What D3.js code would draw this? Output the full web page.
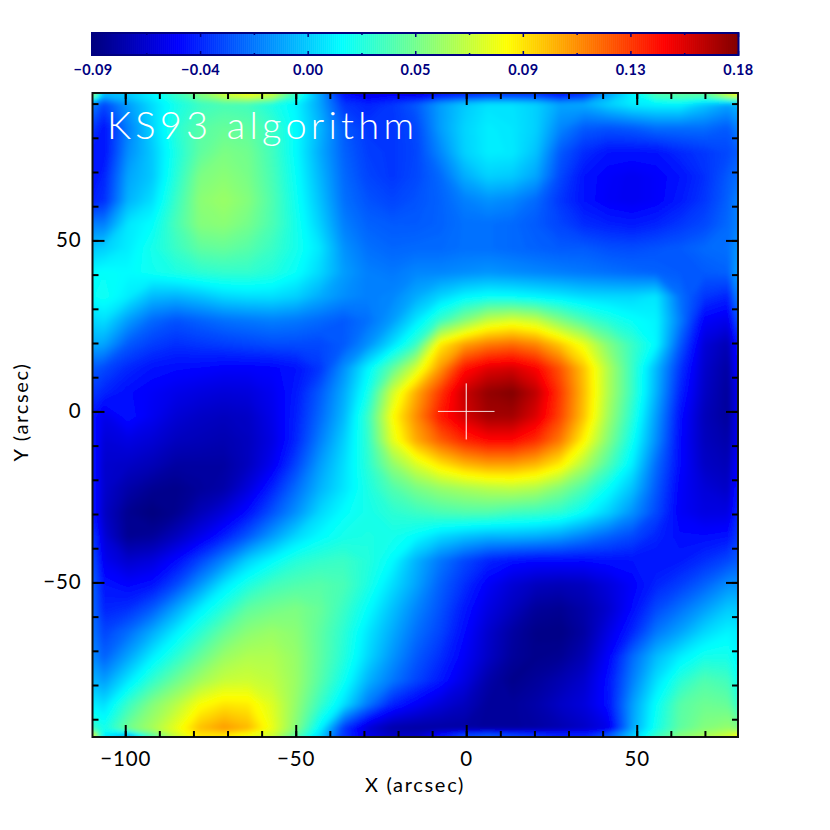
<!DOCTYPE html>
<html>
<head>
<meta charset="utf-8">
<script src="https://cdn.jsdelivr.net/npm/d3@7"></script>
<style>
  html, body { margin: 0; padding: 0; background: #fff; }
  text { font-family: Lato, "Open Sans", sans-serif; }
</style>
</head>
<body>
<div id="chart"></div>
<script>
// sample positions of the map, arcsec
const xGrid = [-109.2, -106.2, -99.2, -92.1, -85.1, -78.1, -71.0, -64.0, -56.9, -49.9, -42.9, -35.8, -28.8, -21.7, -14.7, -7.7, -0.6, 6.4, 13.5, 20.5, 27.5, 34.6, 41.6, 48.7, 55.7, 62.7, 69.8, 76.8, 79.2];
const yGrid = [92.5, 89.8, 82.8, 75.7, 68.7, 61.7, 54.7, 47.7, 40.6, 33.6, 26.6, 19.6, 12.6, 5.5, -1.5, -8.5, -15.5, -22.5, -29.6, -36.6, -43.6, -50.6, -57.6, -64.6, -71.7, -78.7, -85.7, -92.7, -94.6];

// map values, one row per yGrid entry, top to bottom
const zGrid = [
  [.05, -.004, .0, .012, .03, .05, .07, .08, .07, .03, -.01, -.05, -.06, -.055, -.06, -.05, -.045, -.04, -.04, -.04, -.05, -.04, -.01, .012, .035, .04, .04, .07, .08],
  [-.02, -.035, -.012, .005, .02, .03, .034, .032, .022, .012, -.01, -.04, -.045, -.04, -.03, -.012, 0, .007, .007, .002, -.01, -.008, .002, .01, .012, .012, 0, -.01, -.005],
  [-.04, -.05, -.02, .003, .025, .038, .042, .04, .03, .014, -.005, -.03, -.04, -.04, -.035, -.012, .003, .01, .008, .002, -.018, -.03, -.032, -.03, -.025, -.025, -.025, -.03, -.02],
  [-.05, -.05, -.016, 0, .022, .04, .048, .045, .032, .014, -.008, -.028, -.038, -.04, -.036, -.018, .002, .01, .009, -.002, -.03, -.043, -.05, -.05, -.05, -.044, -.04, -.035, -.03],
  [-.05, -.045, -.01, 0, .025, .048, .052, .047, .034, .016, -.005, -.026, -.036, -.04, -.035, -.026, -.008, .002, 0, -.01, -.035, -.05, -.055, -.058, -.055, -.05, -.042, -.03, -.025],
  [-.045, -.042, -.006, .006, .03, .052, .056, .05, .036, .018, -.002, -.024, -.032, -.036, -.032, -.028, -.02, -.015, -.018, -.026, -.04, -.05, -.056, -.058, -.055, -.048, -.04, -.028, -.02],
  [-.02, -.02, .008, .015, .034, .05, .052, .046, .035, .02, .002, -.02, -.028, -.03, -.03, -.028, -.024, -.024, -.026, -.03, -.036, -.043, -.046, -.048, -.045, -.04, -.035, -.026, -.02],
  [0, .002, .01, .02, .03, .04, .042, .038, .03, .02, .008, -.015, -.024, -.027, -.026, -.026, -.024, -.024, -.026, -.028, -.03, -.03, -.033, -.034, -.032, -.03, -.026, -.024, -.015],
  [.014, .016, .014, .018, .022, .026, .028, .028, .024, .016, .004, -.012, -.02, -.022, -.018, -.018, -.016, -.014, -.016, -.018, -.02, -.022, -.024, -.026, -.028, -.03, -.03, -.028, -.012],
  [.016, .018, .01, -.004, -.006, -.002, .004, .006, .006, .002, -.008, -.016, -.02, -.018, -.008, .003, .012, .016, .015, .012, .009, .005, .004, .004, .008, -.024, -.04, -.045, -.022],
  [.004, .006, -.012, -.026, -.032, -.028, -.024, -.022, -.02, -.022, -.026, -.03, -.024, -.012, .008, .03, .05, .068, .074, .068, .05, .035, .024, .016, .012, -.02, -.055, -.06, -.035],
  [-.008, -.01, -.03, -.038, -.042, -.04, -.038, -.036, -.034, -.034, -.035, -.03, -.015, .006, .03, .088, .108, .118, .122, .115, .098, .078, .05, .03, .013, -.03, -.065, -.075, -.05],
  [-.03, -.035, -.044, -.05, -.052, -.053, -.055, -.055, -.054, -.05, -.04, -.015, .012, .04, .072, .11, .145, .157, .16, .15, .128, .098, .062, .03, -.004, -.04, -.068, -.08, -.055],
  [-.04, -.045, -.052, -.056, -.06, -.063, -.065, -.064, -.058, -.048, -.03, -.008, .02, .07, .105, .135, .163, .176, .18, .165, .135, .1, .062, .03, -.006, -.045, -.07, -.082, -.06],
  [-.05, -.06, -.05, -.058, -.066, -.07, -.072, -.07, -.06, -.046, -.026, -.004, .03, .082, .113, .143, .16, .172, .172, .158, .132, .098, .058, .025, -.012, -.05, -.073, -.082, -.06],
  [-.05, -.065, -.062, -.066, -.072, -.074, -.076, -.072, -.062, -.044, -.02, .002, .028, .075, .105, .125, .14, .148, .148, .138, .118, .085, .05, .018, -.016, -.052, -.072, -.078, -.06],
  [-.05, -.068, -.07, -.074, -.08, -.08, -.08, -.072, -.058, -.036, -.012, .006, .026, .053, .073, .09, .102, .108, .108, .102, .088, .062, .036, .01, -.025, -.052, -.07, -.074, -.055],
  [-.05, -.068, -.078, -.084, -.086, -.082, -.078, -.064, -.045, -.025, -.006, .008, .022, .036, .047, .055, .06, .064, .066, .062, .05, .035, .016, -.002, -.03, -.055, -.065, -.07, -.05],
  [-.05, -.07, -.085, -.09, -.085, -.074, -.064, -.05, -.032, -.015, .004, .015, .02, .026, .03, .034, .036, .036, .032, .03, .026, .015, .002, -.015, -.035, -.056, -.062, -.062, -.045],
  [-.04, -.065, -.084, -.082, -.072, -.06, -.046, -.03, -.012, .004, .014, .02, .022, .02, .014, .004, -.002, -.006, -.006, -.008, -.012, -.02, -.028, -.035, -.045, -.052, -.052, -.05, -.04],
  [-.035, -.058, -.068, -.064, -.052, -.036, -.018, .002, .014, .024, .028, .03, .024, .014, -.006, -.022, -.035, -.045, -.05, -.052, -.052, -.052, -.05, -.05, -.05, -.048, -.042, -.035, -.03],
  [-.03, -.05, -.054, -.05, -.035, -.014, .008, .022, .032, .036, .038, .034, .022, .006, -.01, -.028, -.042, -.056, -.066, -.072, -.074, -.072, -.064, -.055, -.045, -.038, -.028, -.016, -.015],
  [-.028, -.045, -.042, -.03, -.01, .01, .025, .04, .045, .048, .042, .03, .015, -.002, -.018, -.032, -.048, -.062, -.072, -.082, -.084, -.078, -.068, -.052, -.035, -.024, -.012, 0, 0],
  [-.024, -.036, -.025, -.008, .01, .026, .042, .052, .056, .052, .04, .026, .008, -.008, -.024, -.036, -.052, -.068, -.08, -.087, -.088, -.08, -.062, -.044, -.022, -.01, .004, .012, .01],
  [-.018, -.028, -.01, .01, .026, .042, .056, .062, .062, .055, .04, .024, .004, -.014, -.03, -.042, -.056, -.07, -.082, -.086, -.084, -.075, -.055, -.026, -.004, .01, .02, .02, .014],
  [-.006, -.012, .008, .028, .044, .058, .068, .07, .066, .056, .038, .018, -.006, -.022, -.036, -.048, -.062, -.078, -.086, -.082, -.076, -.068, -.05, -.02, .006, .025, .036, .032, .02],
  [.01, .006, .03, .05, .064, .082, .09, .088, .074, .054, .03, .006, -.022, -.045, -.056, -.065, -.072, -.082, -.082, -.078, -.07, -.064, -.05, -.012, .016, .038, .044, .042, .03],
  [.03, .02, .045, .06, .078, .1, .11, .102, .078, .05, .012, -.04, -.066, -.078, -.08, -.08, -.08, -.082, -.082, -.08, -.076, -.07, -.06, -.01, .02, .04, .05, .055, .05],
  [.07, .01, -.005, .04, .07, .09, .09, .08, .07, .04, .005, -.04, -.06, -.07, -.07, -.05, -.035, -.03, -.035, -.04, -.045, -.045, -.03, 0, .03, .05, .06, .07, .08]
];

const xMajor = [-100, -50, 0, 50];
const xMinor = [-100, -90, -80, -70, -60, -50, -40, -30, -20, -10, 0, 10, 20, 30, 40, 50, 60, 70];
const yMajor = [50, 0, -50];
const yMinor = [90, 80, 70, 60, 50, 40, 30, 20, 10, 0, -10, -20, -30, -40, -50, -60, -70, -80, -90];

const barMajor = [-0.09, -0.045, 0, 0.045, 0.09, 0.135, 0.18];
const barLabels = ["\u22120.09", "\u22120.04", "0.00", "0.05", "0.09", "0.13", "0.18"];
const barMinor = [-0.0675, -0.0225, 0.0225, 0.0675, 0.1125, 0.1575];

const crossX = [-8.3, 8.3];
const crossY = [-8.2, 8.2];

const width = 830;
const height = 830;
const plot = { left: 92.5, right: 738, top: 93, bottom: 737 };
const bar = { top: 33, bottom: 55 };

const xScale = d3.scaleLinear().domain([-109.6, 79.7]).range([plot.left, plot.right]);
const yScale = d3.scaleLinear().domain([93.1, -95.2]).range([plot.top, plot.bottom]);
const barScale = d3.scaleLinear().domain([-0.09, 0.18]).range([plot.left, plot.right]);

// rainbow table as it reads off the colour bar
const color = d3.scaleLinear()
  .domain([0, .13, .385, .64, .885, 1].map(f => -0.09 + f * 0.27))
  .range(["#000080", "#0000ff", "#00ffff", "#ffff00", "#ff0000", "#800000"])
  .clamp(true);

const svg = d3.select("#chart").append("svg")
  .attr("width", width)
  .attr("height", height)
  .style("display", "block");

// colour bar
const barSteps = d3.range(-0.09, 0.18, 0.27 / 323);
svg.append("g").selectAll("rect")
  .data(barSteps)
  .enter().append("rect")
  .attr("x", d => barScale(d))
  .attr("y", bar.top)
  .attr("width", 2.5)
  .attr("height", bar.bottom - bar.top)
  .attr("fill", d => color(d));

svg.append("rect")
  .attr("x", plot.left - 0.5)
  .attr("y", bar.top)
  .attr("width", plot.right - plot.left + 1)
  .attr("height", bar.bottom - bar.top)
  .attr("fill", "none")
  .attr("stroke", "#000080")
  .attr("stroke-width", 2);

function barAxis(g, values, size, labels) {
  g.call(d3.axisBottom(barScale).tickValues(values).tickSize(size).tickPadding(0)
      .tickFormat((d, i) => labels ? labels[i] : ""))
    .call(s => s.select(".domain").remove());
  g.selectAll("line").attr("stroke", "#000080").attr("stroke-width", 1.5);
}

svg.append("g").attr("transform", `translate(0,${bar.bottom - 4})`)
  .call(barAxis, barMajor, 4, barLabels)
  .call(g => g.selectAll("text")
    .attr("y", 13.7)
    .attr("fill", "#000080")
    .attr("font-size", 14.5)
    .attr("font-weight", 700)
    .attr("letter-spacing", 0.4));
svg.append("g").attr("transform", `translate(0,${bar.top})`).call(barAxis, barMajor, 4);
svg.append("g").attr("transform", `translate(0,${bar.bottom - 2})`).call(barAxis, barMinor, 2);
svg.append("g").attr("transform", `translate(0,${bar.top})`).call(barAxis, barMinor, 2);

// map: filled iso bands from the grid, painted low to high
const nx = xGrid.length;
const ny = yGrid.length;
const thresholds = d3.range(-0.096, 0.18, 0.27 / 200);
const contours = d3.contours().size([nx, ny]).thresholds(thresholds)(zGrid.flat());

// contour coordinates are in cell units, sample i sits at i + 0.5
// the outer cell edges run past the frame so the soft edge gets clipped off
const gxToArcsec = d3.scaleLinear()
  .domain([0, ...xGrid.map((d, i) => i + 0.5), nx])
  .range([xGrid[0] - 5, ...xGrid, xGrid[nx - 1] + 5]);
const gyToArcsec = d3.scaleLinear()
  .domain([0, ...yGrid.map((d, i) => i + 0.5), ny])
  .range([yGrid[0] + 5, ...yGrid, yGrid[ny - 1] - 5]);

const path = d3.geoPath(d3.geoTransform({
  point(x, y) {
    this.stream.point(xScale(gxToArcsec(x)), yScale(gyToArcsec(y)));
  }
}));

const defs = svg.append("defs");
defs.append("clipPath").attr("id", "plot-clip")
  .append("rect")
  .attr("x", plot.left).attr("y", plot.top)
  .attr("width", plot.right - plot.left).attr("height", plot.bottom - plot.top);
defs.append("filter").attr("id", "map-soft")
  .attr("filterUnits", "userSpaceOnUse")
  .attr("x", 60).attr("y", 60).attr("width", 710).attr("height", 710)
  .append("feGaussianBlur").attr("stdDeviation", 2);

svg.append("g").attr("clip-path", "url(#plot-clip)")
  .append("g").attr("filter", "url(#map-soft)")
  .selectAll("path")
  .data(contours)
  .enter().append("path")
  .attr("d", path)
  .attr("fill", d => color(d.value));

// cross on the centre
svg.append("line")
  .attr("x1", xScale(crossX[0])).attr("x2", xScale(crossX[1]))
  .attr("y1", yScale(0)).attr("y2", yScale(0))
  .attr("stroke", "#fff").attr("stroke-opacity", 0.85).attr("stroke-width", 1);
svg.append("line")
  .attr("x1", xScale(0)).attr("x2", xScale(0))
  .attr("y1", yScale(crossY[1])).attr("y2", yScale(crossY[0]))
  .attr("stroke", "#fff").attr("stroke-width", 1);

// frame
svg.append("rect")
  .attr("x", plot.left).attr("y", plot.top)
  .attr("width", plot.right - plot.left).attr("height", plot.bottom - plot.top)
  .attr("fill", "none").attr("stroke", "#111").attr("stroke-width", 2);

function styleTicks(g) {
  g.select(".domain").remove();
  g.selectAll("line").attr("stroke", "#000").attr("stroke-width", 2);
}

// minor and major ticks on all four sides, pointing inwards
[[xMinor, 6], [xMajor, 12]].forEach(([values, size]) => {
  svg.append("g").attr("transform", `translate(0,${plot.bottom})`)
    .call(d3.axisBottom(xScale).tickValues(values).tickSize(-size).tickFormat(""))
    .call(styleTicks);
  svg.append("g").attr("transform", `translate(0,${plot.top})`)
    .call(d3.axisTop(xScale).tickValues(values).tickSize(-size).tickFormat(""))
    .call(styleTicks);
});
[[yMinor, 6], [yMajor, 12]].forEach(([values, size]) => {
  svg.append("g").attr("transform", `translate(${plot.left},0)`)
    .call(d3.axisLeft(yScale).tickValues(values).tickSize(-size).tickFormat(""))
    .call(styleTicks);
  svg.append("g").attr("transform", `translate(${plot.right},0)`)
    .call(d3.axisRight(yScale).tickValues(values).tickSize(-size).tickFormat(""))
    .call(styleTicks);
});

const fmt = d => d < 0 ? "\u2212" + Math.abs(d) : String(d);

// tick labels
svg.append("g").attr("transform", `translate(0,${plot.bottom})`)
  .call(d3.axisBottom(xScale).tickValues(xMajor).tickSize(0).tickFormat(fmt))
  .call(g => g.select(".domain").remove())
  .call(g => g.selectAll("text")
    .attr("y", 14)
    .attr("fill", "#000")
    .attr("font-size", 20.5)
    .attr("letter-spacing", 0.9));
svg.append("g").attr("transform", `translate(${plot.left},0)`)
  .call(d3.axisLeft(yScale).tickValues(yMajor).tickSize(0).tickFormat(fmt))
  .call(g => g.select(".domain").remove())
  .call(g => g.selectAll("text")
    .attr("x", -11)
    .attr("fill", "#000")
    .attr("font-size", 20.5)
    .attr("letter-spacing", 0.9));

// axis titles
svg.append("text")
  .attr("x", 415).attr("y", 792)
  .attr("text-anchor", "middle")
  .attr("font-size", 20)
  .attr("letter-spacing", 1.7)
  .text("X (arcsec)");
svg.append("text")
  .attr("transform", "translate(28,412) rotate(-90)")
  .attr("text-anchor", "middle")
  .attr("font-size", 20)
  .attr("letter-spacing", 1.7)
  .text("Y (arcsec)");

// map title
svg.append("text")
  .attr("x", 107).attr("y", 139)
  .attr("fill", "#fff")
  .attr("font-size", 38)
  .attr("font-weight", 300)
  .attr("letter-spacing", 4.2)
  .text("KS93 algorithm");
</script>
</body>
</html>
